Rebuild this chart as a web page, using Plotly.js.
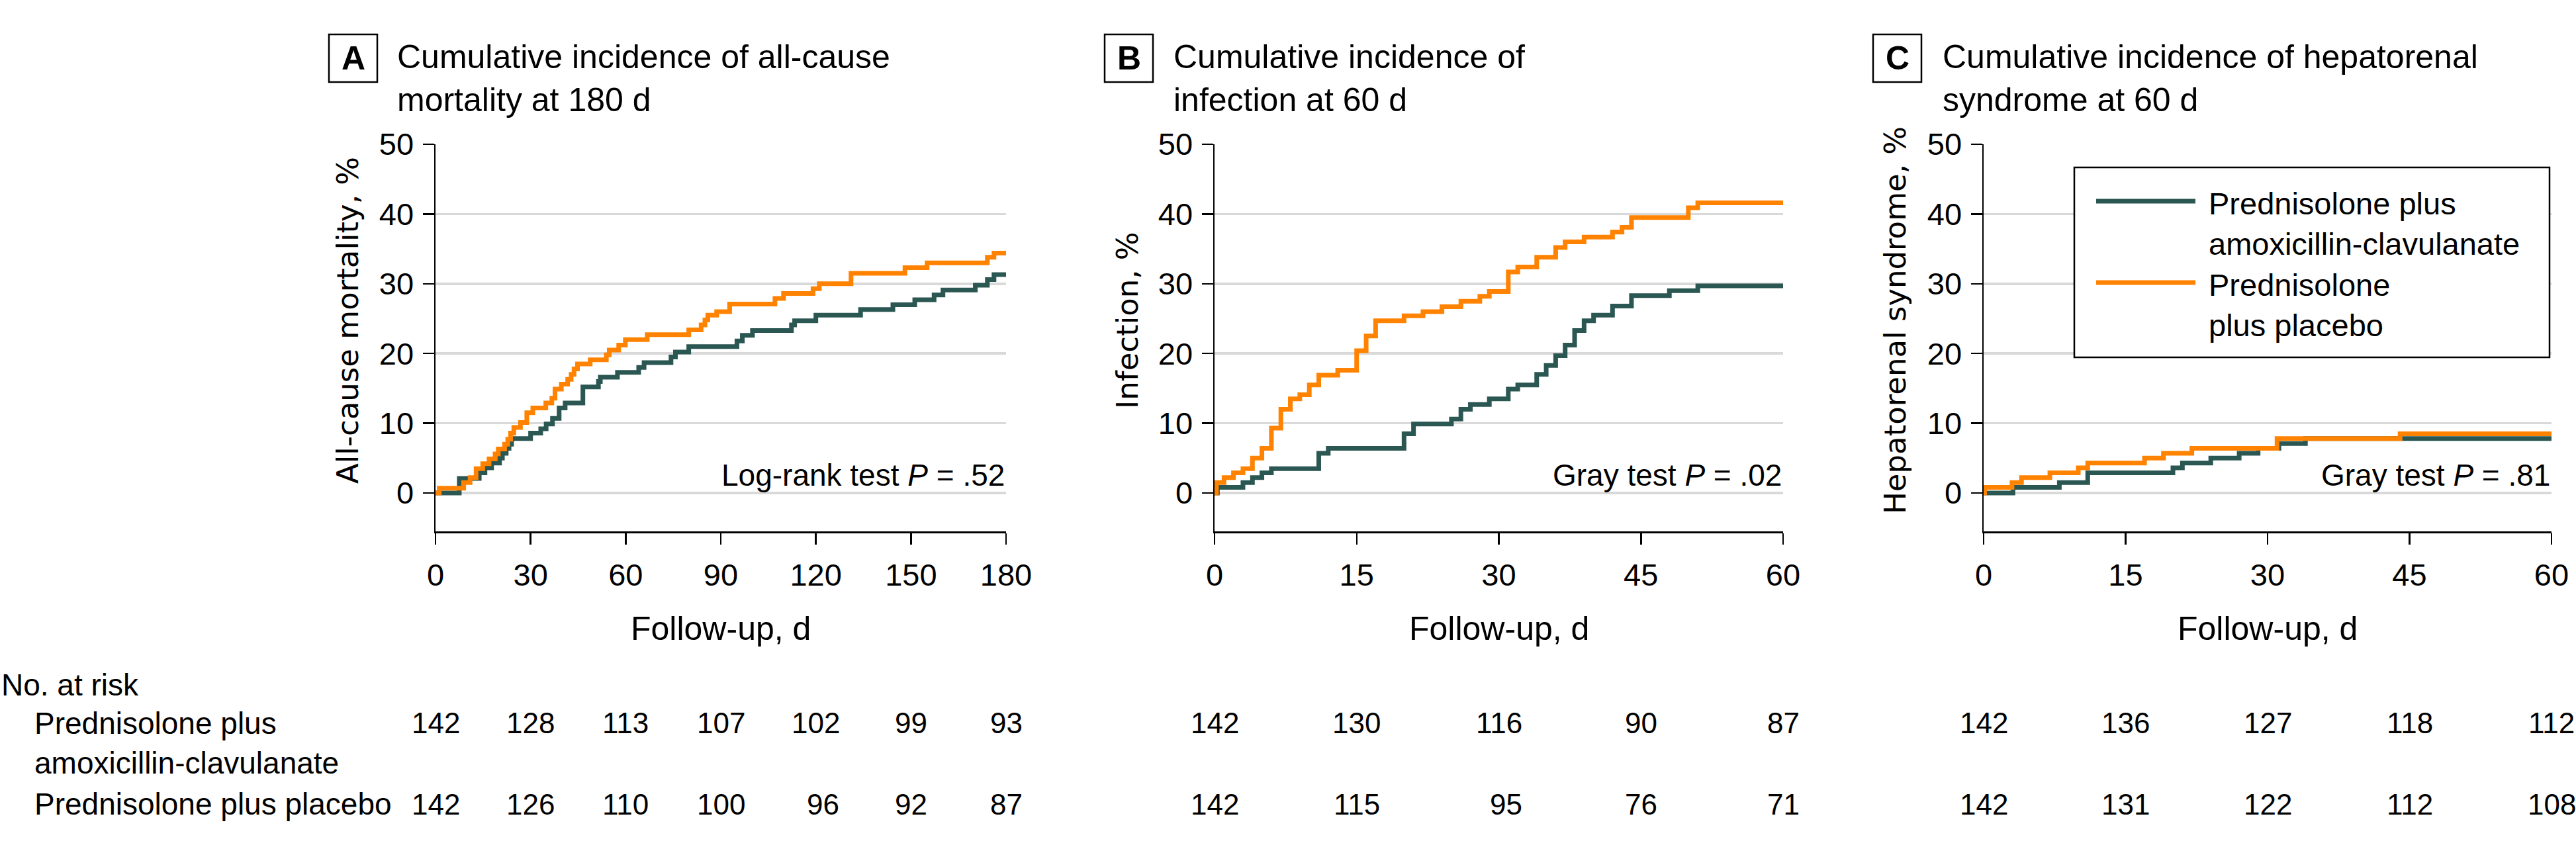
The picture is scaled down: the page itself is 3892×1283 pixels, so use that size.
<!DOCTYPE html>
<html><head><meta charset="utf-8">
<script src="https://cdn.plot.ly/plotly-3.0.1.min.js"></script>
<style>html,body{margin:0;padding:0;background:#fff}</style>
</head><body><div id="chart" style="width:3892px;height:1283px"></div>
<script>
// ---------------- DATA ----------------
const groupAmox = "Prednisolone plus amoxicillin-clavulanate";
const groupPlac = "Prednisolone plus placebo";

// Panel A: all-cause mortality, %
const mortDaysAmox = [0, 7.5, 13.8, 15.6, 17.7, 20.2, 21.1, 22.3, 23.2, 24.0, 30.0, 33.2, 34.9, 36.9, 39.0, 40.9, 46.5, 51.4, 52.0, 57.4, 64.1, 65.8, 74.3, 75.7, 79.9, 95.1, 96.8, 100.0, 112.3, 113.3, 120.0, 134.1, 144.3, 151.2, 157.3, 160.1, 170.3, 174.1, 176.2, 180];
const mortPctAmox  = [0, 2.1, 2.9, 3.6, 4.3, 5.0, 5.7, 6.4, 7.0, 7.8, 8.6, 9.2, 9.9, 10.7, 12.2, 12.9, 15.2, 16.0, 16.6, 17.3, 18.0, 18.7, 19.5, 20.2, 21.0, 21.8, 22.6, 23.3, 24.1, 24.7, 25.5, 26.3, 27.0, 27.7, 28.4, 29.1, 29.8, 30.6, 31.3, 31.3];
const mortDaysPlac = [0, 1.2, 8.9, 10.9, 12.8, 14.9, 16.9, 18.8, 19.8, 21.8, 22.8, 23.7, 24.7, 26.8, 28.8, 30.7, 34.8, 36.7, 37.7, 39.7, 41.7, 42.8, 43.7, 44.8, 48.8, 53.9, 54.8, 57.8, 59.9, 66.8, 79.9, 83.8, 85.0, 85.9, 88.7, 92.8, 107.1, 109.8, 119.1, 121.1, 131.1, 148.1, 155.1, 174.1, 176.2, 180];
const mortPctPlac  = [0, 0.7, 1.5, 2.2, 3.5, 4.2, 4.9, 5.6, 6.3, 7.0, 7.7, 8.6, 9.4, 10.1, 11.5, 12.2, 12.9, 13.6, 14.9, 15.6, 16.3, 17.0, 17.8, 18.5, 19.1, 19.8, 20.5, 21.2, 22.0, 22.7, 23.4, 24.1, 24.8, 25.5, 26.0, 27.1, 27.9, 28.6, 29.3, 30.0, 31.5, 32.3, 33.0, 33.8, 34.4, 34.4];

// Panel B: infection, %
const infDaysAmox = [0, 0.3, 3, 4, 5, 6, 11, 12, 20, 21, 25, 26, 27, 29, 31, 32, 34, 35, 36, 37, 38, 39, 40, 42, 44, 48, 51, 60];
const infPctAmox  = [0, 0.8, 1.5, 2.2, 2.9, 3.5, 5.7, 6.4, 8.5, 9.9, 10.6, 12.0, 12.7, 13.5, 14.9, 15.5, 17.0, 18.3, 19.7, 21.2, 23.3, 24.7, 25.5, 26.8, 28.3, 29.0, 29.7, 29.7];
const infDaysPlac = [0, 0.2, 1, 2, 3, 4, 5, 6, 7, 8, 9, 10, 11, 13, 15, 16, 17, 20, 22, 24, 26, 28, 29, 31, 32, 34, 36, 37, 39, 42, 43, 44, 50, 51, 60];
const infPctPlac  = [0, 1.5, 2.2, 2.9, 3.5, 5.0, 6.4, 9.3, 12.0, 13.5, 14.1, 15.5, 16.9, 17.6, 20.4, 22.5, 24.7, 25.4, 26.0, 26.7, 27.5, 28.2, 28.9, 31.7, 32.4, 33.8, 35.2, 36.0, 36.7, 37.4, 38.1, 39.5, 40.9, 41.6, 41.6];

// Panel C: hepatorenal syndrome, %
const hrsDaysAmox = [0, 3.1, 8, 11, 20, 21, 24, 27, 29, 31.2, 34, 60];
const hrsPctAmox  = [0, 0.8, 1.5, 2.9, 3.6, 4.3, 5.0, 5.7, 6.4, 7.1, 7.8, 7.8];
const hrsDaysPlac = [0, 0.1, 3, 4, 7, 10, 11, 17, 19, 22, 31, 44, 60];
const hrsPctPlac  = [0, 0.8, 1.5, 2.2, 2.9, 3.6, 4.3, 5.0, 5.7, 6.4, 7.8, 8.5, 8.5];

// Numbers at risk
const riskTicksA = [0, 30, 60, 90, 120, 150, 180];
const riskAmoxA  = [142, 128, 113, 107, 102, 99, 93];
const riskPlacA  = [142, 126, 110, 100, 96, 92, 87];
const riskTicksB = [0, 15, 30, 45, 60];
const riskAmoxB  = [142, 130, 116, 90, 87];
const riskPlacB  = [142, 115, 95, 76, 71];
const riskTicksC = [0, 15, 30, 45, 60];
const riskAmoxC  = [142, 136, 127, 118, 112];
const riskPlacC  = [142, 131, 122, 112, 108];

const yTicks = [0, 10, 20, 30, 40, 50];

const panelLetters = ["A", "B", "C"];
const panelTitles = [
  "Cumulative incidence of all-cause<br>mortality at 180 d",
  "Cumulative incidence of<br>infection at 60 d",
  "Cumulative incidence of hepatorenal<br>syndrome at 60 d"
];
const yTitles = ["All-cause mortality, %", "Infection, %", "Hepatorenal syndrome, %"];
const testTexts = ["Log-rank test <i>P</i> = .52", "Gray test <i>P</i> = .02", "Gray test <i>P</i> = .81"];
const xTitle = "Follow-up, d";

// ---------------- STYLE / LAYOUT ----------------
const W = 3892, H = 1283;
const px = v => v / W;
const py = v => 1 - v / H;
const DARK = "#2b5753", ORANGE = "#ff8200";
const TXT = '"Liberation Sans", Arial, sans-serif';
const YTF = '"DejaVu Sans", Verdana, sans-serif';

const plotX = [[658, 1520], [1835, 2694], [2997, 3855]];
const plotYTop = 218, plotYBot = 803;
const boxX = [497, 1669, 2830];
const titleX = [598, 1771, 2933];
const yTitleX = [525, 1703, 2863];

const series = [
  [[mortDaysAmox, mortPctAmox], [mortDaysPlac, mortPctPlac]],
  [[infDaysAmox, infPctAmox], [infDaysPlac, infPctPlac]],
  [[hrsDaysAmox, hrsPctAmox], [hrsDaysPlac, hrsPctPlac]]
];
const ranges = [[0, 180], [0, 60], [0, 60]];
const tickSets = [riskTicksA, riskTicksB, riskTicksC];
const riskSets = [[riskAmoxA, riskPlacA], [riskAmoxB, riskPlacB], [riskAmoxC, riskPlacC]];

const traces = [];
const layout = {
  width: W, height: H,
  margin: {l: 0, r: 0, t: 0, b: 0},
  paper_bgcolor: "#fff", plot_bgcolor: "rgba(0,0,0,0)",
  showlegend: false,
  font: {family: TXT, size: 47, color: "#000"},
  annotations: [], shapes: []
};

for (let i = 0; i < 3; i++) {
  const sfx = i === 0 ? "" : String(i + 1);
  const xa = "x" + sfx, ya = "y" + sfx;
  const colors = [DARK, ORANGE];
  const names = [groupAmox, groupPlac];
  for (let g = 0; g < 2; g++) {
    traces.push({
      x: series[i][g][0], y: series[i][g][1],
      xaxis: xa, yaxis: ya, type: "scatter", mode: "lines",
      name: names[g], line: {color: colors[g], width: 7, shape: "hv"},
      hoverinfo: "skip"
    });
  }
  layout["xaxis" + sfx] = {
    domain: [px(plotX[i][0]), px(plotX[i][1])], anchor: ya,
    range: ranges[i], tickvals: tickSets[i], ticks: "outside", ticklen: 17, tickwidth: 2.5,
    tickcolor: "#000", showline: true, linecolor: "#000", linewidth: 2.5,
    showgrid: false, zeroline: false, ticklabelstandoff: 6,
    tickfont: {family: TXT, size: 47, color: "#000"}, fixedrange: true
  };
  layout["yaxis" + sfx] = {
    domain: [py(plotYBot), py(plotYTop)], anchor: xa,
    range: [-5.5, 50], tickvals: yTicks, ticks: "outside", ticklen: 17, tickwidth: 2.5,
    tickcolor: "#000", showline: true, linecolor: "#000", linewidth: 2.5,
    showgrid: true, gridcolor: "#d9d9d9", gridwidth: 3.5, zeroline: false,
    ticklabelstandoff: 4,
    tickfont: {family: TXT, size: 47, color: "#000"}, fixedrange: true
  };

  // panel letter box + title
  layout.shapes.push({type: "rect", xref: "paper", yref: "paper",
    x0: px(boxX[i]), x1: px(boxX[i] + 73), y0: py(124), y1: py(52),
    line: {color: "#000", width: 2.5}, fillcolor: "rgba(0,0,0,0)"});
  layout.annotations.push({xref: "paper", yref: "paper", x: px(boxX[i] + 36.5), y: py(88),
    text: "<b>" + panelLetters[i] + "</b>", showarrow: false, xanchor: "center", yanchor: "middle",
    font: {family: TXT, size: 50, color: "#000"}});
  layout.annotations.push({xref: "paper", yref: "paper", x: px(titleX[i]), y: py(119),
    text: panelTitles[i], showarrow: false, xanchor: "left", yanchor: "middle", align: "left",
    font: {family: TXT, size: 50, color: "#000"}});

  // y-axis title
  layout.annotations.push({xref: "paper", yref: "paper", x: px(yTitleX[i]), y: py(484),
    text: yTitles[i], textangle: -90, showarrow: false, xanchor: "center", yanchor: "middle",
    font: {family: YTF, size: 45, color: "#000"}});

  // x-axis title
  layout.annotations.push({xref: "paper", yref: "paper", x: px((plotX[i][0] + plotX[i][1]) / 2), y: py(950),
    text: xTitle, showarrow: false, xanchor: "center", yanchor: "middle",
    font: {family: TXT, size: 50, color: "#000"}});

  // test text
  layout.annotations.push({xref: "paper", yref: "paper", x: px(plotX[i][1]), y: py(718),
    text: testTexts[i], showarrow: false, xanchor: "right", yanchor: "middle",
    font: {family: TXT, size: 46, color: "#000"}});

  // numbers at risk
  const ticks = tickSets[i];
  const rs = riskSets[i];
  const rowY = [1092, 1215];
  for (let k = 0; k < ticks.length; k++) {
    for (let r = 0; r < 2; r++) {
      const v = rs[r][k];
      const rightAlign = (r === 1 && v < 100 && rs[0][k] >= 100);
      layout.annotations.push({xref: xa, yref: "paper", x: ticks[k], y: py(rowY[r]),
        text: String(v), showarrow: false,
        xanchor: rightAlign ? "right" : "center", xshift: rightAlign ? 37 : 0,
        yanchor: "middle", font: {family: TXT, size: 44, color: "#000"}});
    }
  }
}

// risk table labels
layout.annotations.push({xref: "paper", yref: "paper", x: 0, y: py(1035), text: "No. at risk",
  showarrow: false, xanchor: "left", yanchor: "middle", font: {family: TXT, size: 46}});
layout.annotations.push({xref: "paper", yref: "paper", x: px(50), y: py(1123),
  text: "Prednisolone plus<br>amoxicillin-clavulanate", align: "left",
  showarrow: false, xanchor: "left", yanchor: "middle", font: {family: TXT, size: 46}});
layout.annotations.push({xref: "paper", yref: "paper", x: px(50), y: py(1215),
  text: groupPlac, showarrow: false, xanchor: "left", yanchor: "middle", font: {family: TXT, size: 46}});

// legend (panel C)
layout.shapes.push({type: "rect", xref: "paper", yref: "paper",
  x0: px(3134), x1: px(3852), y0: py(540), y1: py(253),
  line: {color: "#000", width: 2.5}, fillcolor: "#fff", layer: "above"});
layout.shapes.push({type: "line", xref: "paper", yref: "paper",
  x0: px(3167), x1: px(3317), y0: py(304), y1: py(304), line: {color: DARK, width: 7}, layer: "above"});
layout.shapes.push({type: "line", xref: "paper", yref: "paper",
  x0: px(3167), x1: px(3317), y0: py(427), y1: py(427), line: {color: ORANGE, width: 7}, layer: "above"});
layout.annotations.push({xref: "paper", yref: "paper", x: px(3335), y: py(338),
  text: "Prednisolone plus<br>amoxicillin-clavulanate", align: "left",
  showarrow: false, xanchor: "left", yanchor: "middle", font: {family: TXT, size: 47}});
layout.annotations.push({xref: "paper", yref: "paper", x: px(3335), y: py(461),
  text: "Prednisolone<br>plus placebo", align: "left",
  showarrow: false, xanchor: "left", yanchor: "middle", font: {family: TXT, size: 47}});

Plotly.newPlot("chart", traces, layout, {staticPlot: true, displayModeBar: false});
</script>
</body></html>
